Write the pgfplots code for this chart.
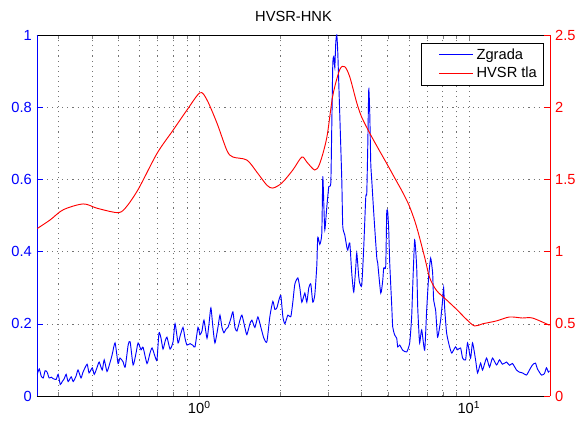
\documentclass[border=0pt]{standalone}
\usepackage{fontspec}
\setmainfont{Liberation Sans}
\usepackage{pgfplots}
\pgfplotsset{compat=1.18}
\begin{document}
\fontsize{11pt}{13pt}\selectfont
\begin{tikzpicture}
\begin{axis}[name=main,
  scale only axis, width=384.75pt, height=270.75pt,
  xmode=log, xmin=0.25, xmax=20,
  tick align=inside,
  ymin=0, ymax=1,
  separate axis lines,
  x axis line style={black}, y axis line style={blue},
  ytick pos=left,
  ytick={0,0.2,0.4,0.6,0.8,1},
  yticklabels={0,0.2,0.4,0.6,0.8,1},
  yticklabel style={blue},
  y tick style={blue},
  xtick={1,10}, xticklabels={10\textsuperscript{0},10\textsuperscript{1}},
  minor xtick={0.3,0.4,0.5,0.6,0.7,0.8,0.9,2,3,4,5,6,7,8,9,20},
  xmajorgrids, xminorgrids, ymajorgrids,
  grid style={black!55, dash pattern=on 0.8pt off 3pt},
  minor grid style={black!55, dash pattern=on 0.8pt off 3pt},
  title={HVSR-HNK},
  legend style={at={(axis description cs:0.988,0.978)}, anchor=north east,
    draw=black, fill=white, font=\fontsize{11pt}{13pt}\selectfont,
    inner xsep=3pt, inner ysep=2pt},
  legend cell align=left,
  legend image code/.code={\path (-0.35cm,0cm); \draw[#1] (0cm,0cm) -- (0.9cm,0cm);},
]
\addplot[color=blue, draw=blue, line width=0.7pt, smooth, tension=0.35] table {
0.2506 0.06
0.2549 0.075
0.2592 0.055
0.2637 0.05
0.268 0.07
0.2726 0.066
0.2773 0.05
0.2824 0.052
0.2873 0.048
0.2945 0.046
0.2996 0.06
0.305 0.032
0.3102 0.04
0.3156 0.048
0.3207 0.06
0.3262 0.04
0.3348 0.053
0.3406 0.04
0.3490 0.055
0.3550 0.072
0.3641 0.05
0.3704 0.066
0.3835 0.088
0.3901 0.064
0.4008 0.078
0.4077 0.06
0.4181 0.08
0.4253 0.094
0.4364 0.072
0.4439 0.10
0.4547 0.068
0.467 0.094
0.4750 0.114
0.487 0.147
0.4996 0.09
0.508 0.105
0.5212 0.095
0.531 0.08
0.5448 0.142
0.554 0.15
0.5683 0.086
0.5829 0.12
0.5930 0.147
0.6082 0.128
0.6186 0.135
0.6398 0.09
0.657 0.12
0.6683 0.133
0.685 0.11
0.6968 0.10
0.7088 0.175
0.7211 0.16
0.7335 0.13
0.746 0.15
0.7588 0.163
0.779 0.13
0.7992 0.15
0.813 0.20
0.8341 0.147
0.848 0.165
0.8700 0.19
0.885 0.16
0.9002 0.141
0.924 0.145
0.9479 0.14
0.964 0.136
0.9890 0.19
1.006 0.17
1.0233 0.18
1.0409 0.21
1.0681 0.16
1.0864 0.20
1.1044 0.244
1.1234 0.19
1.143 0.147
1.1726 0.19
1.193 0.224
1.2135 0.19
1.2344 0.175
1.2557 0.185
1.2772 0.19
1.3101 0.215
1.3326 0.233
1.356 0.19
1.3793 0.18
1.415 0.21
1.4393 0.224
1.476 0.19
1.5014 0.17
1.541 0.20
1.5675 0.21
1.608 0.19
1.6496 0.219
1.6924 0.19
1.7362 0.16
1.7811 0.15
1.827 0.22
1.8743 0.262
1.907 0.24
1.9398 0.244
1.9732 0.265
2.0070 0.278
2.0415 0.22
2.077 0.20
2.1308 0.224
2.1855 0.22
2.2231 0.26
2.262 0.31
2.3206 0.327
2.360 0.30
2.4006 0.26
2.463 0.285
2.5054 0.26
2.5485 0.30
2.5920 0.31
2.6366 0.26
2.682 0.28
2.7281 0.36
2.7515 0.44
2.799 0.42
2.8471 0.45
2.8715 0.607
2.8961 0.535
2.922 0.46
2.9723 0.524
3.0234 0.58
3.0751 0.59
3.1014 0.75
3.1280 0.92
3.1548 0.94
3.182 0.91
3.2092 0.98
3.2367 1.0
3.2644 0.95
3.320 0.78
3.3771 0.60
3.4060 0.47
3.465 0.446
3.5246 0.413
3.5547 0.404
3.616 0.424
3.6782 0.34
3.7415 0.288
3.8063 0.357
3.8389 0.396
3.9050 0.33
3.938 0.313
4.0057 0.307
4.0747 0.413
4.1452 0.551
4.1807 0.562
4.2164 0.69
4.2526 0.85
4.289 0.784
4.3257 0.645
4.3628 0.598
4.4378 0.507
4.5520 0.385
4.5909 0.368
4.7110 0.285
4.7920 0.32
4.8331 0.355
4.9157 0.36
4.9578 0.507
5.0003 0.51
5.0431 0.46
5.087 0.368
5.1745 0.25
5.2188 0.191
5.308 0.169
5.3993 0.16
5.4455 0.136
5.539 0.141
5.6825 0.127
5.8804 0.122
6.032 0.147
6.1358 0.22
6.1882 0.30
6.295 0.432
6.4033 0.357
6.4581 0.25
6.5134 0.19
6.570 0.147
6.6830 0.183
6.856 0.127
6.9740 0.238
7.0939 0.33
7.2152 0.382
7.3393 0.34
7.4022 0.266
7.5289 0.238
7.6583 0.163
7.8577 0.21
7.9928 0.266
8.0613 0.30
8.128 0.247
8.2678 0.175
8.482 0.136
8.6279 0.119
8.7017 0.122
8.9268 0.136
9.0802 0.128
9.3191 0.133
9.4793 0.105
9.7225 0.10
9.8897 0.147
10.146 0.105
10.321 0.147
10.590 0.10
10.772 0.064
11.054 0.091
11.244 0.072
11.627 0.105
11.93 0.08
12.239 0.105
12.664 0.086
12.99 0.10
13.326 0.088
13.793 0.094
14.15 0.085
14.516 0.09
15.024 0.072
15.41 0.066
15.809 0.064
16.357 0.058
16.78 0.072
17.215 0.086
17.660 0.091
17.964 0.075
18.594 0.058
19.07 0.062
19.398 0.078
19.732 0.066
19.90 0.07
};
\addlegendentry{Zgrada}
\addlegendimage{color=red, draw=red, line width=0.7pt}
\addlegendentry{HVSR tla}
\end{axis}
\begin{axis}[
  scale only axis, width=384.75pt, height=270.75pt,
  xmode=log, xmin=0.25, xmax=20,
  tick align=inside,
  ymin=0, ymax=2.5,
  axis x line=none, axis y line*=right,
  y axis line style={red},
  ytick={0,0.5,1,1.5,2,2.5},
  yticklabels={0,0.5,1,1.5,2,2.5},
  yticklabel style={red},
  y tick style={red},
]
\addplot[color=red, draw=red, line width=0.7pt, smooth] table {
0.2506 1.16
0.280 1.22
0.313 1.29
0.371 1.33
0.418 1.30
0.496 1.27
0.531 1.30
0.593 1.43
0.697 1.68
0.799 1.84
0.900 1.98
1.006 2.10
1.068 2.05
1.1627 1.89
1.2664 1.70
1.3326 1.655
1.5014 1.634
1.6357 1.55
1.7811 1.46
1.8743 1.44
2.0242 1.475
2.2231 1.565
2.4006 1.655
2.5054 1.62
2.682 1.565
2.799 1.61
2.972 1.79
3.128 2.08
3.320 2.26
3.465 2.28
3.616 2.21
3.839 2.03
4.006 1.93
4.289 1.82
4.591 1.72
4.958 1.61
5.308 1.51
5.683 1.41
6.032 1.31
6.403 1.17
6.856 0.96
7.154 0.82
7.593 0.73
8.268 0.665
9.003 0.60
9.806 0.53
10.50 0.485
11.244 0.50
12.664 0.52
14.15 0.547
15.809 0.54
17.215 0.54
19.9 0.49
};
\end{axis}
\pgfresetboundingbox
\path (main.south west) ++(-27.75pt,-28.5pt) rectangle ++(434.25pt,325.5pt);
\end{tikzpicture}
\end{document}
